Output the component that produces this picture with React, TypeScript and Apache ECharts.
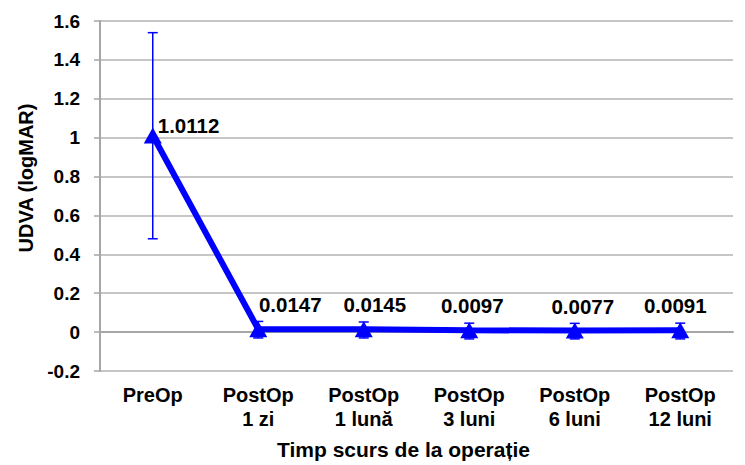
import React, { useEffect, useRef } from "react";
import * as echarts from "echarts";

const categories = [
  "PreOp",
  "PostOp\n1 zi",
  "PostOp\n1 lună",
  "PostOp\n3 luni",
  "PostOp\n6 luni",
  "PostOp\n12 luni",
];
const means = [1.0112, 0.0147, 0.0145, 0.0097, 0.0077, 0.0091];
const errLow = [0.48, -0.03, -0.03, -0.035, -0.035, -0.035];
const errHigh = [1.54, 0.055, 0.052, 0.046, 0.045, 0.046];
const yTicks = { min: -0.2, max: 1.6, interval: 0.2 };

// label placement (styling, not data)
const labelPositions = ["right", "top", "top", "top", "top", "top"];
const labelOffsets: [number, number][] = [
  [-4, -10],
  [32, -6],
  [11, -6],
  [3, -6],
  [8, -6],
  [-5, -6],
];

const FONT = "'Liberation Sans', Arial, sans-serif";
const BLUE = "#0000FF";

export default function App() {
  const ref = useRef<HTMLDivElement>(null);
  useEffect(() => {
    document.body.style.margin = "0";
    if (!ref.current) return;
    const chart = echarts.init(ref.current, null, { renderer: "svg" });
    const option: any = {
      animation: false,
      backgroundColor: "#ffffff",
      textStyle: { fontFamily: FONT },
      grid: { left: 100, right: 12, top: 21, bottom: 94 },
      xAxis: {
        type: "category",
        data: categories,
        name: "Timp scurs de la operație",
        nameLocation: "middle",
        nameGap: 68,
        nameTextStyle: {
          fontFamily: FONT,
          fontWeight: "bold",
          fontSize: 21,
          color: "#000",
          padding: [0, 26, 0, 0],
        },
        axisLine: { lineStyle: { color: "#a6a6a6", width: 2 } },
        axisTick: { show: false },
        axisLabel: {
          interval: 0,
          margin: 12,
          fontFamily: FONT,
          fontWeight: "bold",
          fontSize: 20,
          lineHeight: 24,
          color: "#000",
        },
      },
      yAxis: {
        type: "value",
        min: yTicks.min,
        max: yTicks.max,
        interval: yTicks.interval,
        name: "UDVA (logMAR)",
        nameLocation: "middle",
        nameGap: 64,
        nameTextStyle: {
          fontFamily: FONT,
          fontWeight: "bold",
          fontSize: 20,
          color: "#000",
          padding: [0, 0, 0, 36],
        },
        axisLine: { show: true, lineStyle: { color: "#a6a6a6", width: 2 } },
        axisTick: { show: true, length: 6, lineStyle: { color: "#a6a6a6", width: 1.5 } },
        splitLine: { lineStyle: { color: "#b3b3b3", width: 1.5 } },
        axisLabel: {
          margin: 20,
          fontFamily: FONT,
          fontWeight: "bold",
          fontSize: 19,
          color: "#000",
          formatter: (v: number) => String(parseFloat(v.toFixed(1))),
        },
      },
      series: [
        {
          type: "custom",
          z: 1,
          data: categories.map((_, i) => [i, errLow[i], errHigh[i]]),
          renderItem: (params: any, api: any) => {
            const x = api.value(0);
            const lo = api.coord([x, api.value(1)]);
            const hi = api.coord([x, api.value(2)]);
            const w = 5;
            const style = { stroke: BLUE, lineWidth: 1.5 };
            return {
              type: "group",
              children: [
                { type: "line", shape: { x1: hi[0], y1: hi[1], x2: lo[0], y2: lo[1] }, style },
                { type: "line", shape: { x1: hi[0] - w, y1: hi[1], x2: hi[0] + w, y2: hi[1] }, style },
                { type: "line", shape: { x1: lo[0] - w, y1: lo[1], x2: lo[0] + w, y2: lo[1] }, style },
              ],
            };
          },
        },
        {
          type: "line",
          z: 3,
          data: means.map((v, i) => ({
            value: v,
            label: { position: labelPositions[i], offset: labelOffsets[i] },
          })),
          lineStyle: { color: BLUE, width: 6 },
          itemStyle: { color: BLUE },
          symbol: "triangle",
          symbolSize: [18, 16],
          label: {
            show: true,
            distance: 0,
            fontFamily: FONT,
            fontWeight: "bold",
            fontSize: 20.5,
            color: "#000",
            formatter: (p: any) => p.value.toFixed(4),
          },
        },
      ],
    };
    chart.setOption(option);
    return () => chart.dispose();
  }, []);
  return <div ref={ref} style={{ width: 745, height: 465 }} />;
}
